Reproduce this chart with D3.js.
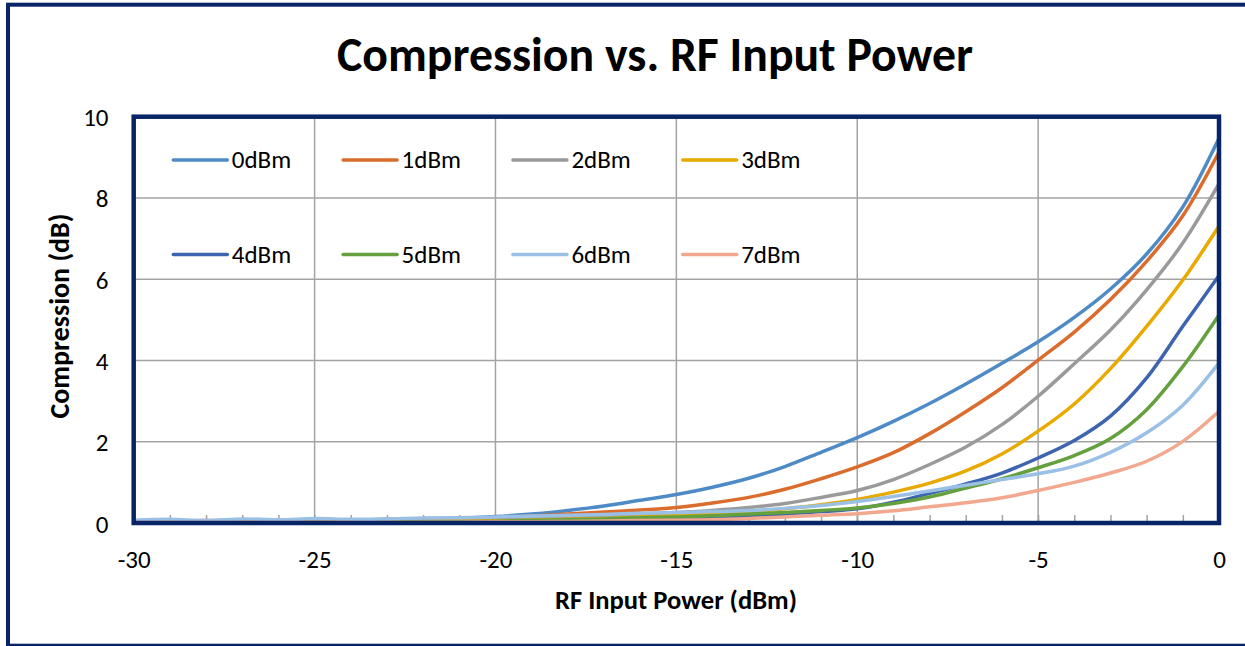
<!DOCTYPE html>
<html>
<head>
<meta charset="utf-8">
<script src="https://cdn.jsdelivr.net/npm/d3@7"></script>
<style>
  html, body { margin: 0; padding: 0; background: #fff; }
  svg { display: block; }
  text { font-family: Calibri, Carlito, Lato, sans-serif; fill: #000; }
</style>
</head>
<body>
<svg id="chart" width="1245" height="646"></svg>
<script>
// ---------- data ----------
const titleText = "Compression vs. RF Input Power";
const xTitle = "RF Input Power (dBm)";
const yTitle = "Compression (dB)";
const xTicks = [-30, -25, -20, -15, -10, -5, 0];
const yTicks = [0, 2, 4, 6, 8, 10];
const inputPower = d3.range(-30, 1, 1); // -30 .. 0 dBm
const seriesNames = ["0dBm", "1dBm", "2dBm", "3dBm", "4dBm", "5dBm", "6dBm", "7dBm"];
const seriesColors = ["#4E8BC6", "#DA6C2D", "#9A9A9A", "#E8AA00", "#3D64AF", "#64A03E", "#9BC0E5", "#F2A88E"];

const comp0dBm = [0.05,0.06,0.05,0.07,0.06,0.08,0.07,0.09,0.10,0.12,0.16,0.22,0.31,0.42,0.56,0.70,0.88,1.10,1.39,1.74,2.10,2.50,2.94,3.42,3.93,4.46,5.06,5.76,6.62,7.78,9.47];
const comp1dBm = [0.04,0.05,0.06,0.05,0.06,0.05,0.07,0.07,0.08,0.10,0.13,0.17,0.22,0.27,0.32,0.38,0.49,0.63,0.83,1.09,1.38,1.73,2.20,2.74,3.33,4.01,4.70,5.50,6.44,7.56,9.13];
const comp2dBm = [0.03,0.04,0.03,0.05,0.04,0.05,0.04,0.06,0.06,0.08,0.09,0.12,0.15,0.18,0.22,0.26,0.31,0.38,0.48,0.63,0.80,1.07,1.44,1.87,2.42,3.12,3.92,4.75,5.74,6.89,8.35];
const comp3dBm = [0.02,0.03,0.02,0.03,0.03,0.02,0.04,0.03,0.04,0.05,0.05,0.07,0.09,0.11,0.15,0.19,0.23,0.28,0.35,0.45,0.58,0.76,0.98,1.28,1.70,2.26,2.93,3.80,4.84,5.98,7.31];
const comp4dBm = [0.00,0.01,0.00,0.01,0.01,0.00,0.01,0.00,0.01,0.01,0.01,0.02,0.02,0.03,0.05,0.08,0.11,0.16,0.22,0.28,0.35,0.51,0.73,0.96,1.23,1.60,2.03,2.63,3.57,4.84,6.09];
const comp5dBm = [0.02,0.01,0.02,0.02,0.01,0.02,0.03,0.02,0.03,0.03,0.04,0.06,0.08,0.10,0.13,0.15,0.18,0.22,0.26,0.31,0.37,0.48,0.64,0.86,1.09,1.36,1.66,2.08,2.79,3.85,5.12];
const comp6dBm = [0.07,0.09,0.06,0.10,0.08,0.11,0.09,0.10,0.12,0.13,0.15,0.17,0.19,0.21,0.24,0.26,0.28,0.31,0.36,0.43,0.53,0.65,0.79,0.93,1.07,1.21,1.40,1.74,2.22,2.90,3.94];
const comp7dBm = [0.01,0.02,0.01,0.02,0.01,0.02,0.02,0.01,0.02,0.02,0.03,0.03,0.04,0.05,0.06,0.07,0.08,0.11,0.15,0.19,0.23,0.30,0.40,0.50,0.62,0.80,1.00,1.23,1.52,2.01,2.75];
const seriesValues = [comp0dBm, comp1dBm, comp2dBm, comp3dBm, comp4dBm, comp5dBm, comp6dBm, comp7dBm];

// ---------- layout ----------
const svg = d3.select("#chart");
const navy = "#062466";
const plot = { left: 133.7, right: 1219, top: 116.7, bottom: 523 };
const labelFont = 25;

const x = d3.scaleLinear().domain([-30, 0]).range([plot.left, plot.right]);
const y = d3.scaleLinear().domain([0, 10]).range([plot.bottom, plot.top]);

// outer border
svg.append("rect")
  .attr("x", 8).attr("y", 4.7).attr("width", 1300).attr("height", 641)
  .attr("fill", "none").attr("stroke", navy).attr("stroke-width", 4);

function fitText(sel, width) {
  sel.attr("font-size", 40);
  const w = sel.node().getComputedTextLength();
  sel.attr("font-size", 40 * width / w);
}

// title
const t = svg.append("text")
  .attr("x", 655).attr("y", 71)
  .attr("text-anchor", "middle").attr("font-weight", "bold")
  .text(titleText);
fitText(t, 636);

// gridlines
const grid = svg.append("g");
grid.selectAll("line.v").data(xTicks.slice(1, -1)).join("line")
  .attr("x1", d => x(d)).attr("x2", d => x(d))
  .attr("y1", plot.top).attr("y2", plot.bottom)
  .attr("stroke", "#A3A3A3").attr("stroke-width", 1.5);
grid.selectAll("line.h").data(yTicks.slice(1, -1)).join("line")
  .attr("x1", plot.left).attr("x2", plot.right)
  .attr("y1", d => y(d)).attr("y2", d => y(d))
  .attr("stroke", "#A3A3A3").attr("stroke-width", 1.5);

// minor ticks along bottom via d3 axis
const minorAxis = d3.axisBottom(x).tickValues(d3.range(-29, 0, 1)).tickSize(-6).tickFormat("");
const mg = svg.append("g").attr("transform", `translate(0,${plot.bottom - 2})`).call(minorAxis);
mg.select(".domain").remove();
mg.selectAll(".tick line").attr("stroke", "#A3A3A3").attr("stroke-width", 1.5);

// axes labels via d3 axes
const xAxis = d3.axisBottom(x).tickValues(xTicks).tickSize(0).tickPadding(0).tickFormat(d3.format("d"));
const xg = svg.append("g").attr("transform", `translate(0,${plot.bottom})`).call(xAxis);
xg.select(".domain").remove();
xg.selectAll(".tick text")
  .attr("font-family", "Calibri, Carlito, Lato, sans-serif")
  .attr("font-size", labelFont).attr("fill", "#000")
  .attr("dy", null).attr("y", 44.5)
  .text(d => d === 0 ? "0" : String(d).replace("\u2212", "-"));

const yAxis = d3.axisLeft(y).tickValues(yTicks).tickSize(0).tickPadding(0);
const yg = svg.append("g").attr("transform", `translate(108.5,0)`).call(yAxis);
yg.select(".domain").remove();
yg.selectAll(".tick text")
  .attr("font-family", "Calibri, Carlito, Lato, sans-serif")
  .attr("font-size", labelFont).attr("fill", "#000")
  .attr("dy", "0.36em").attr("x", 0);

// axis titles
const xt = svg.append("text")
  .attr("x", 676).attr("y", 609)
  .attr("text-anchor", "middle").attr("font-weight", "bold")
  .text(xTitle);
fitText(xt, 242);
const yt = svg.append("text")
  .attr("transform", "translate(68.5,316) rotate(-90)")
  .attr("text-anchor", "middle").attr("font-weight", "bold")
  .text(yTitle);
fitText(yt, 205);

// series lines
const line = d3.line()
  .x((d, i) => x(inputPower[i]))
  .y(d => y(d))
  .curve(d3.curveCatmullRom.alpha(0.5));
svg.append("g").selectAll("path").data(seriesValues).join("path")
  .attr("d", d => line(d))
  .attr("fill", "none")
  .attr("stroke", (d, i) => seriesColors[i])
  .attr("stroke-width", 3.5)
  .attr("stroke-linejoin", "round")
  .attr("stroke-linecap", "round");

// plot border
svg.append("rect")
  .attr("x", plot.left).attr("y", plot.top)
  .attr("width", plot.right - plot.left).attr("height", plot.bottom - plot.top)
  .attr("fill", "none").attr("stroke", navy).attr("stroke-width", 4.5);

// legend
const legend = svg.append("g");
const lg = legend.selectAll("g").data(seriesNames).join("g")
  .attr("transform", (d, i) => `translate(${173.3 + 169.8 * (i % 4)},${i < 4 ? 160 : 254.5})`);
lg.append("line")
  .attr("x1", 0).attr("x2", 54).attr("y1", 0).attr("y2", 0)
  .attr("stroke", (d, i) => seriesColors[i]).attr("stroke-width", 3.5)
  .attr("stroke-linecap", "round");
lg.append("text")
  .attr("x", 58.5).attr("y", 8)
  .attr("font-size", labelFont)
  .text(d => d);
</script>
</body>
</html>
